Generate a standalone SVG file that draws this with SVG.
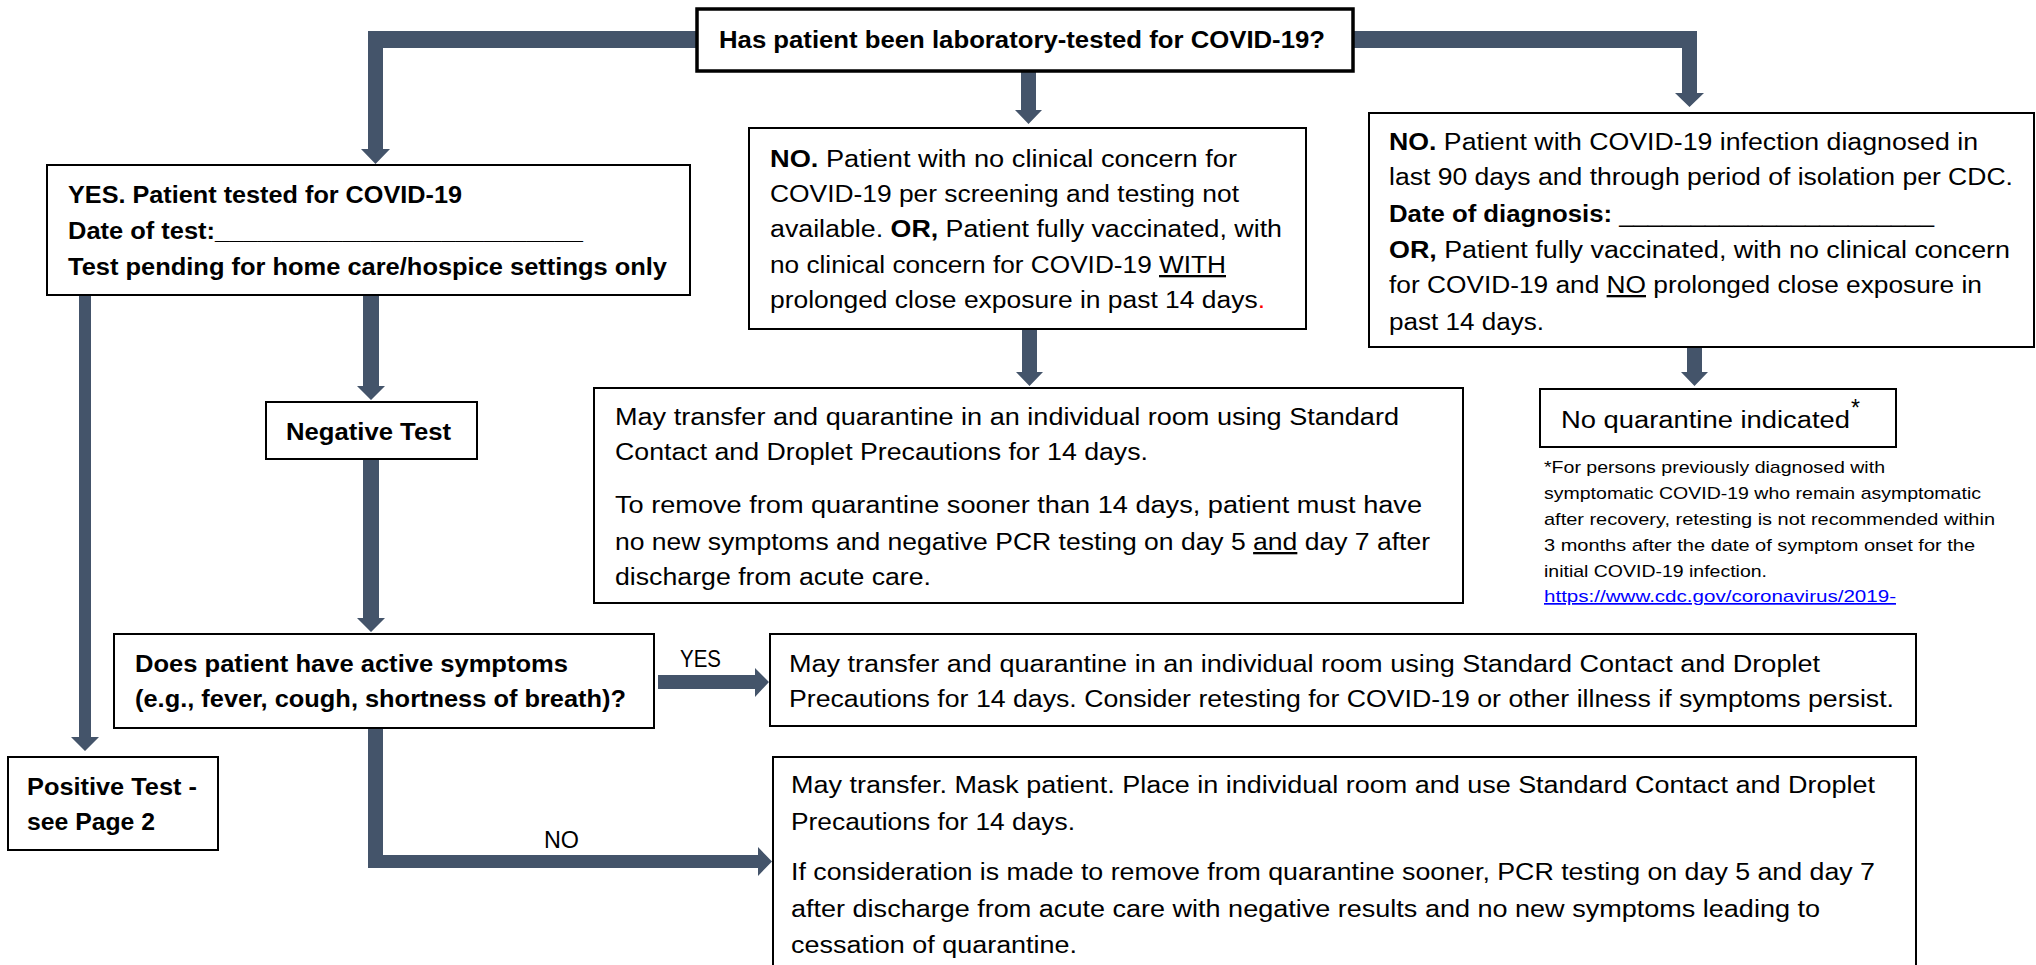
<svg xmlns="http://www.w3.org/2000/svg" width="2036" height="965" viewBox="0 0 2036 965">
<style>
.box{fill:#fff;stroke:#000;stroke-width:2}
.t{font-family:"Liberation Sans",Arial,sans-serif;font-size:23px;fill:#000}
.b{font-weight:bold}
.fn{font-family:"Liberation Sans",Arial,sans-serif;font-size:17px;fill:#000}
.conn{fill:#44546A}
</style>
<rect width="2036" height="965" fill="#fff"/>
<g id="connectors">
<polygon class="conn" points="697,31 368,31 368,149 361,149 375.5,164 390,149 383,149 383,48 697,48"/>
<polygon class="conn" points="1354,31 1697,31 1697,93 1704,93 1689.5,107 1675,93 1682,93 1682,48 1354,48"/>
<polygon class="conn" points="1021,71 1036,71 1036,110 1042,110 1028.5,124 1015,110 1021,110"/>
<polygon class="conn" points="1022,329 1037,329 1037,372 1043,372 1029.5,386 1016,372 1022,372"/>
<polygon class="conn" points="1687,347 1702,347 1702,372 1708,372 1694.5,386 1681,372 1687,372"/>
<polygon class="conn" points="363,295 379,295 379,386 385,386 371,400 357,386 363,386"/>
<polygon class="conn" points="363,459 379,459 379,618 385,618 371,632 357,618 363,618"/>
<polygon class="conn" points="79,295 91,295 91,737 99,737 85,751 71,737 79,737"/>
<polygon class="conn" points="658,675 755,675 755,668 769,682 755,697 755,689 658,689"/>
<polygon class="conn" points="368,728 383,728 383,855 758,855 758,847 772,861.5 758,876 758,868 368,868"/>
</g>
<g id="node-top">
<rect class="box" x="697" y="9" width="656" height="62" style="stroke-width:3.5"/>
<text class="t b" x="719" y="48" textLength="606" lengthAdjust="spacingAndGlyphs">Has patient been laboratory-tested for COVID-19?</text>
</g>
<g id="node-yes">
<rect class="box" x="47" y="165" width="643" height="130"/>
<text class="t b" x="68" y="203" textLength="394" lengthAdjust="spacingAndGlyphs">YES. Patient tested for COVID-19</text>
<text class="t b" x="68" y="239" textLength="515" lengthAdjust="spacingAndGlyphs">Date of test:__________________________</text>
<text class="t b" x="68" y="275" textLength="599" lengthAdjust="spacingAndGlyphs">Test pending for home care/hospice settings only</text>
</g>
<g id="node-no1">
<rect class="box" x="749" y="128" width="557" height="201"/>
<text class="t" x="770" y="167" textLength="467" lengthAdjust="spacingAndGlyphs"><tspan class="b">NO.</tspan> Patient with no clinical concern for</text>
<text class="t" x="770" y="202" textLength="469" lengthAdjust="spacingAndGlyphs">COVID-19 per screening and testing not</text>
<text class="t" x="770" y="237" textLength="512" lengthAdjust="spacingAndGlyphs">available. <tspan class="b">OR,</tspan> Patient fully vaccinated, with</text>
<text class="t" x="770" y="273" textLength="456" lengthAdjust="spacingAndGlyphs">no clinical concern for COVID-19 <tspan text-decoration="underline">WITH</tspan></text>
<text class="t" x="770" y="308" textLength="495" lengthAdjust="spacingAndGlyphs">prolonged close exposure in past 14 days<tspan fill="#FF0000">.</tspan></text>
</g>
<g id="node-no2">
<rect class="box" x="1369" y="113" width="665" height="234"/>
<text class="t" x="1389" y="150" textLength="589" lengthAdjust="spacingAndGlyphs"><tspan class="b">NO.</tspan> Patient with COVID-19 infection diagnosed in</text>
<text class="t" x="1389" y="185" textLength="624" lengthAdjust="spacingAndGlyphs">last 90 days and through period of isolation per CDC.</text>
<text class="t" x="1389" y="222" textLength="545" lengthAdjust="spacingAndGlyphs"><tspan class="b">Date of diagnosis:</tspan> ______________________</text>
<text class="t" x="1389" y="258" textLength="621" lengthAdjust="spacingAndGlyphs"><tspan class="b">OR,</tspan> Patient fully vaccinated, with no clinical concern</text>
<text class="t" x="1389" y="293" textLength="593" lengthAdjust="spacingAndGlyphs">for COVID-19 and <tspan text-decoration="underline">NO</tspan> prolonged close exposure in</text>
<text class="t" x="1389" y="330" textLength="155" lengthAdjust="spacingAndGlyphs">past 14 days.</text>
</g>
<g id="node-maytransfer">
<rect class="box" x="594" y="388" width="869" height="215"/>
<text class="t" x="615" y="425" textLength="784" lengthAdjust="spacingAndGlyphs">May transfer and quarantine in an individual room using Standard</text>
<text class="t" x="615" y="460" textLength="533" lengthAdjust="spacingAndGlyphs">Contact and Droplet Precautions for 14 days.</text>
<text class="t" x="615" y="513" textLength="807" lengthAdjust="spacingAndGlyphs">To remove from quarantine sooner than 14 days, patient must have</text>
<text class="t" x="615" y="550" textLength="815" lengthAdjust="spacingAndGlyphs">no new symptoms and negative PCR testing on day 5 <tspan text-decoration="underline">and</tspan> day 7 after</text>
<text class="t" x="615" y="585" textLength="316" lengthAdjust="spacingAndGlyphs">discharge from acute care.</text>
</g>
<g id="node-noquarantine">
<rect class="box" x="1540" y="389" width="356" height="58"/>
<text class="t" x="1561" y="428" font-size="24" textLength="289" lengthAdjust="spacingAndGlyphs">No quarantine indicated</text>
<text class="t" x="1851" y="416" font-size="14">*</text>
</g>
<g id="footnote">
<text class="fn" x="1544" y="473" textLength="341" lengthAdjust="spacingAndGlyphs">*For persons previously diagnosed with</text>
<text class="fn" x="1544" y="499" textLength="437" lengthAdjust="spacingAndGlyphs">symptomatic COVID-19 who remain asymptomatic</text>
<text class="fn" x="1544" y="525" textLength="451" lengthAdjust="spacingAndGlyphs">after recovery, retesting is not recommended within</text>
<text class="fn" x="1544" y="551" textLength="431" lengthAdjust="spacingAndGlyphs">3 months after the date of symptom onset for the</text>
<text class="fn" x="1544" y="577" textLength="223" lengthAdjust="spacingAndGlyphs">initial COVID-19 infection.</text>
<text class="fn" x="1544" y="602" style="fill:#0000FF" text-decoration="underline" textLength="352" lengthAdjust="spacingAndGlyphs">https://www.cdc.gov/coronavirus/2019-</text>
</g>
<g id="node-negative">
<rect class="box" x="266" y="402" width="211" height="57"/>
<text class="t b" x="286" y="440" textLength="165" lengthAdjust="spacingAndGlyphs">Negative Test</text>
</g>
<g id="node-symptoms">
<rect class="box" x="114" y="634" width="540" height="94"/>
<text class="t b" x="135" y="672" textLength="433" lengthAdjust="spacingAndGlyphs">Does patient have active symptoms</text>
<text class="t b" x="135" y="707" textLength="491" lengthAdjust="spacingAndGlyphs">(e.g., fever, cough, shortness of breath)?</text>
</g>
<g id="node-positive">
<rect class="box" x="8" y="757" width="210" height="93"/>
<text class="t b" x="27" y="795" textLength="170" lengthAdjust="spacingAndGlyphs">Positive Test -</text>
<text class="t b" x="27" y="830" textLength="128" lengthAdjust="spacingAndGlyphs">see Page 2</text>
</g>
<g id="labels">
<text class="t" x="680" y="667" textLength="41" lengthAdjust="spacingAndGlyphs">YES</text>
<text class="t" x="544" y="848" textLength="35" lengthAdjust="spacingAndGlyphs">NO</text>
</g>
<g id="node-yesresult">
<rect class="box" x="770" y="634" width="1146" height="92"/>
<text class="t" x="789" y="672" textLength="1031" lengthAdjust="spacingAndGlyphs">May transfer and quarantine in an individual room using Standard Contact and Droplet</text>
<text class="t" x="789" y="707" textLength="1105" lengthAdjust="spacingAndGlyphs">Precautions for 14 days. Consider retesting for COVID-19 or other illness if symptoms persist.</text>
</g>
<g id="node-noresult">
<rect class="box" x="773" y="757" width="1143" height="213"/>
<text class="t" x="791" y="793" textLength="1084" lengthAdjust="spacingAndGlyphs">May transfer. Mask patient. Place in individual room and use Standard Contact and Droplet</text>
<text class="t" x="791" y="830" textLength="284" lengthAdjust="spacingAndGlyphs">Precautions for 14 days.</text>
<text class="t" x="791" y="880" textLength="1084" lengthAdjust="spacingAndGlyphs">If consideration is made to remove from quarantine sooner, PCR testing on day 5 and day 7</text>
<text class="t" x="791" y="917" textLength="1029" lengthAdjust="spacingAndGlyphs">after discharge from acute care with negative results and no new symptoms leading to</text>
<text class="t" x="791" y="953" textLength="286" lengthAdjust="spacingAndGlyphs">cessation of quarantine.</text>
</g>
</svg>
